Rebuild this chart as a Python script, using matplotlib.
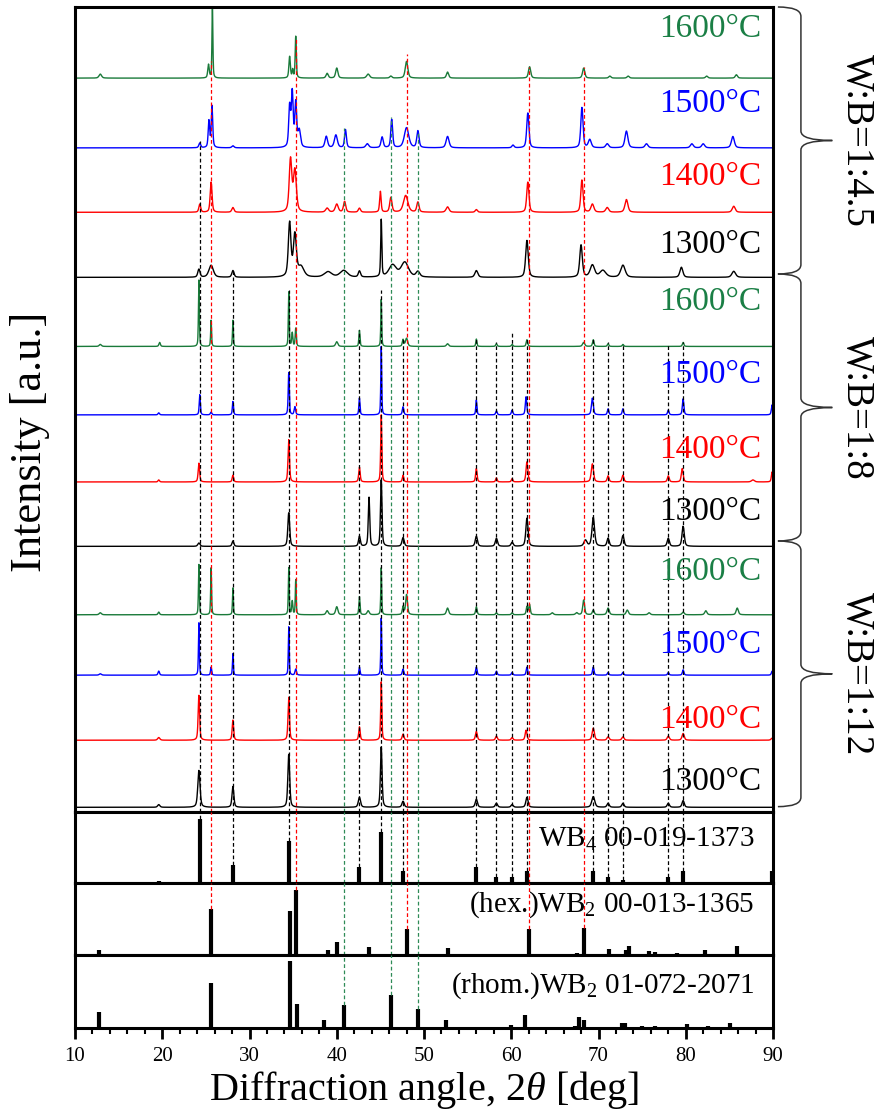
import numpy as np
import matplotlib
matplotlib.use("Agg")
from matplotlib import pyplot as plt
from matplotlib.path import Path
from matplotlib.patches import PathPatch
from matplotlib.transforms import blended_transform_factory

plt.rcParams['font.family'] = ['Liberation Serif', 'DejaVu Serif']
plt.rcParams['mathtext.fontset'] = 'custom'
plt.rcParams['mathtext.rm'] = 'Liberation Serif'
plt.rcParams['mathtext.it'] = 'Liberation Serif:italic'

# ---- measured patterns: (2theta, intensity, fwhm), intensity in a.u. (100 = trace spacing)
wb45_1600 = [(12.9, 6, 0.35), (25.3, 20, 0.2), (25.75, 110, 0.12), (34.6, 32, 0.2), (34.95, 12, 0.15),
             (35.3, 62, 0.15), (38.9, 7, 0.3), (40.0, 15, 0.3), (43.6, 6, 0.4), (46.2, 3, 0.3),
             (48.0, 25, 0.35), (52.7, 9, 0.3), (62.1, 17, 0.3), (68.3, 15, 0.3), (71.3, 3, 0.3),
             (73.4, 3, 0.3), (82.4, 3, 0.3), (85.8, 5, 0.3)]
wb45_1500 = [(24.3, 7, 0.25), (25.35, 40, 0.2), (25.7, 62, 0.2), (28.1, 3, 0.3), (34.6, 60, 0.25),
             (34.9, 80, 0.25), (35.3, 65, 0.25), (35.7, 25, 0.35), (38.8, 17, 0.35), (39.9, 19, 0.4),
             (41.0, 27, 0.25), (43.5, 6, 0.4), (45.2, 16, 0.3), (46.3, 42, 0.25), (48.0, 30, 0.6),
             (49.3, 25, 0.3), (52.7, 17, 0.4), (60.2, 4, 0.3), (61.9, 52, 0.3), (68.1, 60, 0.3),
             (69.0, 12, 0.4), (71.0, 6, 0.4), (73.2, 25, 0.4), (75.5, 6, 0.4), (80.7, 6, 0.4),
             (82.0, 6, 0.4), (85.4, 17, 0.4)]
wb45_1400 = [(24.3, 12, 0.25), (25.6, 45, 0.25), (28.1, 7, 0.3), (34.7, 78, 0.35), (35.2, 62, 0.4),
             (38.9, 6, 0.4), (40.0, 12, 0.4), (40.9, 16, 0.3), (42.6, 6, 0.3), (45.0, 31, 0.2),
             (46.2, 22, 0.3), (47.9, 25, 0.6), (49.3, 15, 0.3), (52.7, 8, 0.4), (56.0, 4, 0.3),
             (61.9, 45, 0.3), (68.1, 48, 0.3), (69.3, 12, 0.4), (71.0, 7, 0.4), (73.2, 19, 0.4),
             (85.5, 9, 0.4)]
wb45_1300 = [(24.2, 12, 0.3), (25.6, 18, 0.6), (28.1, 10, 0.3), (34.6, 80, 0.35), (35.2, 62, 0.4),
             (35.9, 15, 0.8), (39.0, 8, 1.0), (40.8, 10, 1.0), (42.6, 9, 0.3), (45.1, 85, 0.15),
             (46.4, 18, 1.0), (47.8, 22, 1.0), (49.3, 8, 0.5), (56.0, 10, 0.4), (61.8, 55, 0.35),
             (68.0, 48, 0.35), (69.3, 18, 0.6), (70.5, 10, 0.8), (72.8, 18, 0.6), (79.5, 15, 0.4),
             (85.5, 9, 0.5)]
wb8_1600 = [(12.9, 3, 0.3), (19.7, 6, 0.2), (24.2, 99, 0.12), (25.6, 39, 0.12), (28.1, 39, 0.12),
            (34.5, 81, 0.12), (34.9, 20, 0.15), (35.3, 27, 0.15), (40.0, 7, 0.3), (42.6, 24, 0.15),
            (45.1, 70, 0.12), (47.6, 10, 0.2), (48.0, 12, 0.3), (52.7, 4, 0.3), (56.0, 11, 0.15),
            (58.3, 4, 0.2), (60.1, 3, 0.2), (61.8, 10, 0.2), (68.3, 6, 0.3), (69.4, 10, 0.2),
            (71.1, 4, 0.2), (72.8, 3, 0.2), (79.7, 6, 0.2)]
wb8_1500 = [(19.6, 3, 0.2), (24.3, 30, 0.15), (25.6, 4, 0.2), (28.1, 20, 0.15), (34.5, 63, 0.15),
            (35.2, 12, 0.2), (42.6, 25, 0.15), (45.1, 102, 0.12), (47.6, 12, 0.2), (56.0, 22, 0.15),
            (58.3, 6, 0.2), (60.1, 7, 0.2), (61.7, 27, 0.2), (69.3, 25, 0.25), (71.1, 9, 0.2),
            (72.8, 9, 0.2), (78.0, 7, 0.2), (79.7, 24, 0.2), (89.9, 15, 0.2)]
wb8_1400 = [(19.6, 3, 0.2), (24.2, 28, 0.2), (28.1, 10, 0.2), (34.5, 63, 0.2), (42.6, 22, 0.2),
            (45.1, 100, 0.15), (47.6, 10, 0.2), (56.0, 20, 0.2), (58.3, 6, 0.2), (60.1, 5, 0.2),
            (61.8, 30, 0.25), (69.3, 27, 0.3), (71.1, 9, 0.25), (72.8, 10, 0.25), (78.0, 9, 0.25),
            (79.6, 20, 0.25), (87.7, 3, 0.4), (89.9, 15, 0.2)]
wb8_1300 = [(24.2, 5, 0.3), (28.1, 8, 0.25), (34.5, 50, 0.25), (42.6, 15, 0.25), (43.7, 73, 0.2),
            (45.1, 99, 0.2), (47.6, 13, 0.3), (56.0, 15, 0.3), (58.3, 12, 0.3), (60.1, 6, 0.3),
            (61.8, 42, 0.3), (68.5, 9, 0.4), (69.4, 43, 0.35), (71.1, 12, 0.3), (72.8, 16, 0.3),
            (78.0, 12, 0.3), (79.7, 30, 0.3)]
wb12_1600 = [(12.9, 3, 0.3), (19.6, 4, 0.2), (24.2, 75, 0.12), (25.6, 70, 0.12), (28.1, 40, 0.12),
             (34.5, 70, 0.12), (34.9, 20, 0.15), (35.3, 52, 0.12), (38.9, 6, 0.3), (40.0, 12, 0.3),
             (42.6, 27, 0.15), (43.6, 6, 0.3), (45.1, 70, 0.12), (47.6, 12, 0.2), (48.0, 30, 0.25),
             (52.7, 10, 0.3), (56.0, 12, 0.2), (58.3, 3, 0.2), (60.1, 3, 0.2), (61.8, 12, 0.2),
             (62.1, 15, 0.2), (64.7, 3, 0.3), (67.5, 3, 0.3), (68.3, 22, 0.25), (69.4, 7, 0.25),
             (71.1, 10, 0.3), (73.3, 7, 0.3), (75.8, 3, 0.3), (79.7, 4, 0.3), (82.3, 6, 0.3),
             (85.9, 10, 0.3)]
wb12_1500 = [(12.9, 2, 0.3), (19.6, 6, 0.2), (24.2, 78, 0.12), (25.6, 12, 0.15), (28.1, 32, 0.12),
             (34.5, 72, 0.12), (35.3, 9, 0.2), (42.6, 12, 0.15), (45.1, 85, 0.12), (47.6, 9, 0.2),
             (56.0, 12, 0.2), (58.3, 6, 0.2), (60.1, 4, 0.2), (61.8, 12, 0.2), (69.4, 12, 0.2),
             (71.1, 4, 0.2), (72.8, 4, 0.2), (78.0, 4, 0.2), (79.7, 8, 0.2), (89.9, 6, 0.2)]
wb12_1400 = [(19.6, 4, 0.3), (24.2, 67, 0.2), (28.1, 30, 0.2), (34.5, 64, 0.2), (42.6, 20, 0.2),
             (45.1, 87, 0.15), (47.6, 9, 0.25), (56.0, 13, 0.25), (58.3, 6, 0.25), (60.1, 4, 0.25),
             (61.7, 15, 0.25), (69.4, 18, 0.3), (71.1, 5, 0.3), (72.8, 5, 0.3), (78.0, 6, 0.3),
             (79.7, 10, 0.3), (89.9, 3, 0.3)]
wb12_1300 = [(19.6, 4, 0.3), (24.2, 55, 0.3), (28.1, 31, 0.25), (34.5, 79, 0.25), (42.6, 15, 0.3),
             (45.1, 90, 0.22), (47.6, 9, 0.3), (56.0, 12, 0.3), (58.3, 6, 0.3), (60.1, 4, 0.3),
             (61.8, 15, 0.3), (69.4, 16, 0.4), (71.1, 6, 0.3), (72.8, 6, 0.3), (78.0, 6, 0.3),
             (79.7, 10, 0.3)]

# stacking order bottom -> top
patterns = [wb12_1300, wb12_1400, wb12_1500, wb12_1600,
            wb8_1300, wb8_1400, wb8_1500, wb8_1600,
            wb45_1300, wb45_1400, wb45_1500, wb45_1600]
temps = ['1300°C', '1400°C', '1500°C', '1600°C'] * 3
offsets = [7, 107, 204, 294, 396, 492, 592, 694, 797, 894, 990, 1094]
label_y = [33, 125, 237, 346, 435, 528, 639, 748, 833, 934, 1043, 1155]
groups = ['W:B=1:12', 'W:B=1:8', 'W:B=1:4.5']
group_edges = [8, 404, 802, 1200]

# ---- reference cards: 2theta and relative intensity
wb4_pos = [19.6, 24.3, 28.1, 34.5, 42.6, 45.1, 47.6, 56.0, 58.3, 60.1, 61.8, 69.4, 71.1, 72.8,
           78.0, 79.7, 88.3, 89.9]
wb4_int = [3, 100, 28, 65, 25, 80, 19, 25, 9, 9, 19, 19, 9, 5, 9, 19, 2, 19]
hex_pos = [12.8, 25.6, 34.6, 35.3, 39.0, 40.0, 43.7, 48.0, 52.7, 62.0, 64.7, 67.5, 68.3, 71.2,
           73.2, 73.5, 75.8, 76.5, 79.0, 82.2, 85.9]
hex_int = [8, 71, 67, 100, 8, 20, 12, 39, 10, 39, 2, 3, 42, 9, 8, 14, 6, 5, 3, 8, 13]
rhom_pos = [12.8, 25.6, 34.6, 35.4, 38.5, 40.8, 46.2, 49.3, 52.5, 60.0, 61.6, 67.3, 67.8, 68.3,
            72.7, 73.0, 75.0, 76.5, 80.1, 82.6, 85.1]
rhom_int = [24, 67, 100, 36, 12, 34, 49, 28, 12, 4, 20, 3, 16, 12, 7, 7, 3, 3, 6, 3, 7]

# guide lines: position and height where the dashed line stops in the stack
wb4_lines = [24.3, 28.1, 34.5, 42.6, 45.1, 47.6, 56.0, 58.3, 60.1, 61.8, 69.4, 71.1, 72.8, 78.0, 79.7]
wb4_line_top = [1000, 808, 778, 718, 778, 708, 708, 700, 715, 708, 706, 700, 698, 697, 700]
hex_lines = [25.6, 35.3, 48.0, 62.0, 68.3]
hex_line_top = [1120, 1155, 1130, 1110, 1110]
rhom_lines = [40.8, 46.2, 49.3]
rhom_line_top = [1020, 1036, 1013]

GREEN = '#1a7a3a'
colors = {'1300°C': 'black', '1400°C': '#ff0000', '1500°C': '#0000ff', '1600°C': GREEN}
text_colors = {'1300°C': 'black', '1400°C': '#ff0000', '1500°C': '#0000ff', '1600°C': '#1a7f45'}


def profile(x, peaks):
    y = np.zeros_like(x)
    for c, h, w in peaks:
        d = (x - c) / w
        y += h * (0.5 * np.exp(-4 * np.log(2) * d ** 2) + 0.5 / (1 + 4 * d ** 2))
    return y


fig = plt.figure(figsize=(8.75, 11.13), dpi=100)
W, H = 875, 1113
left, width = 75 / W, 698 / W
ax = fig.add_axes([left, 1 - 812 / H, width, 805 / H])
ax4 = fig.add_axes([left, 1 - 883 / H, width, 71 / H])
axh = fig.add_axes([left, 1 - 955 / H, width, 72 / H])
axr = fig.add_axes([left, 1 - 1028 / H, width, 73 / H])

x = np.linspace(10, 90, 4001)
for pk, off, t, ly in zip(patterns, offsets, temps, label_y):
    ax.plot(x, off + profile(x, pk), color=colors[t], lw=1.0, zorder=2)
    ax.text(88.7, ly, t, color=text_colors[t], fontsize=24, ha='right', va='baseline', zorder=4)

dash = dict(linestyle=(0, (3, 2)), lw=0.9, zorder=3)
ax.vlines(wb4_lines, 0, wb4_line_top, color='k', **dash)
ax.vlines(hex_lines, 0, hex_line_top, color='#ff0000', **dash)
ax.vlines(rhom_lines, 0, rhom_line_top, color='#2e8b57', **dash)

ax.set_xlim(10, 90)
ax.set_ylim(0, 1200)

# braces and group labels
tr = blended_transform_factory(ax.transAxes, ax.transData)
x0, x1, x2, r = 1.007, 1.040, 1.085, 14
for g, yb, yt in zip(groups, group_edges[:-1], group_edges[1:]):
    ym = (yb + yt) / 2
    verts = [(x0, yt), (x1, yt), (x1, yt - r), (x1, ym + r), (x1, ym), (x2, ym),
             (x1, ym), (x1, ym - r), (x1, yb + r), (x1, yb), (x0, yb)]
    codes = [Path.MOVETO, Path.CURVE3, Path.CURVE3, Path.LINETO, Path.CURVE3, Path.CURVE3,
             Path.CURVE3, Path.CURVE3, Path.LINETO, Path.CURVE3, Path.CURVE3]
    ax.add_patch(PathPatch(Path(verts, codes), transform=tr, fill=False, lw=1.1,
                           edgecolor='#333333', clip_on=False))
    ax.text(1.120, ym, g, transform=tr, rotation=-90, ha='center', va='center', fontsize=28)

# reference card panels
for a, pos, inten, top in [(ax4, wb4_pos, wb4_int, 111), (axh, hex_pos, hex_int, 110),
                           (axr, rhom_pos, rhom_int, 109)]:
    a.vlines(pos, 0, inten, color='k', lw=3.0, zorder=2)
    a.set_xlim(10, 90)
    a.set_ylim(0, top)

wb4_h = dict(zip(wb4_pos, wb4_int))
hex_h = dict(zip(hex_pos, hex_int))
rhom_h = dict(zip(rhom_pos, rhom_int))
ax4.vlines(wb4_lines, [wb4_h[p] for p in wb4_lines], 111, color='k', **dash)
ax4.vlines(hex_lines, 0, 111, color='#ff0000', **dash)
ax4.vlines(rhom_lines, 0, 111, color='#2e8b57', **dash)
axh.vlines(hex_lines, [hex_h[p] for p in hex_lines], 110, color='#ff0000', **dash)
axh.vlines(rhom_lines, 0, 110, color='#2e8b57', **dash)
axr.vlines(rhom_lines, [rhom_h[p] for p in rhom_lines], 109, color='#2e8b57', **dash)

ax4.text(87.9, 0.51, 'WB$_4$ 00-019-1373', transform=blended_transform_factory(ax4.transData, ax4.transAxes),
         ha='right', va='baseline', fontsize=21)
axh.text(87.9, 0.60, '(hex.)WB$_2$ 00-013-1365', transform=blended_transform_factory(axh.transData, axh.transAxes),
         ha='right', va='baseline', fontsize=21)
axr.text(87.9, 0.48, '(rhom.)WB$_2$ 01-072-2071', transform=blended_transform_factory(axr.transData, axr.transAxes),
         ha='right', va='baseline', fontsize=21)

for a in [ax, ax4, axh, axr]:
    for s in a.spines.values():
        s.set_linewidth(2.2)
    a.tick_params(left=False, labelleft=False, bottom=False, labelbottom=False)

axr.tick_params(bottom=True, labelbottom=True, which='both', direction='out')
axr.set_xticks(np.arange(10, 91, 10))
axr.set_xticks(np.arange(10, 91, 2), minor=True)
axr.tick_params(which='major', length=8, width=2, labelsize=15, pad=6)
axr.tick_params(which='minor', length=4.5, width=1.5)
axr.set_xlabel(r'Diffraction angle, 2$\it{\theta}$ [deg]', fontsize=29, labelpad=2)

fig.text(30 / W, 1 - 442 / H, 'Intensity [a.u.]', rotation=90, ha='center', va='center', fontsize=32)

fig.savefig('out.png', dpi=100)
